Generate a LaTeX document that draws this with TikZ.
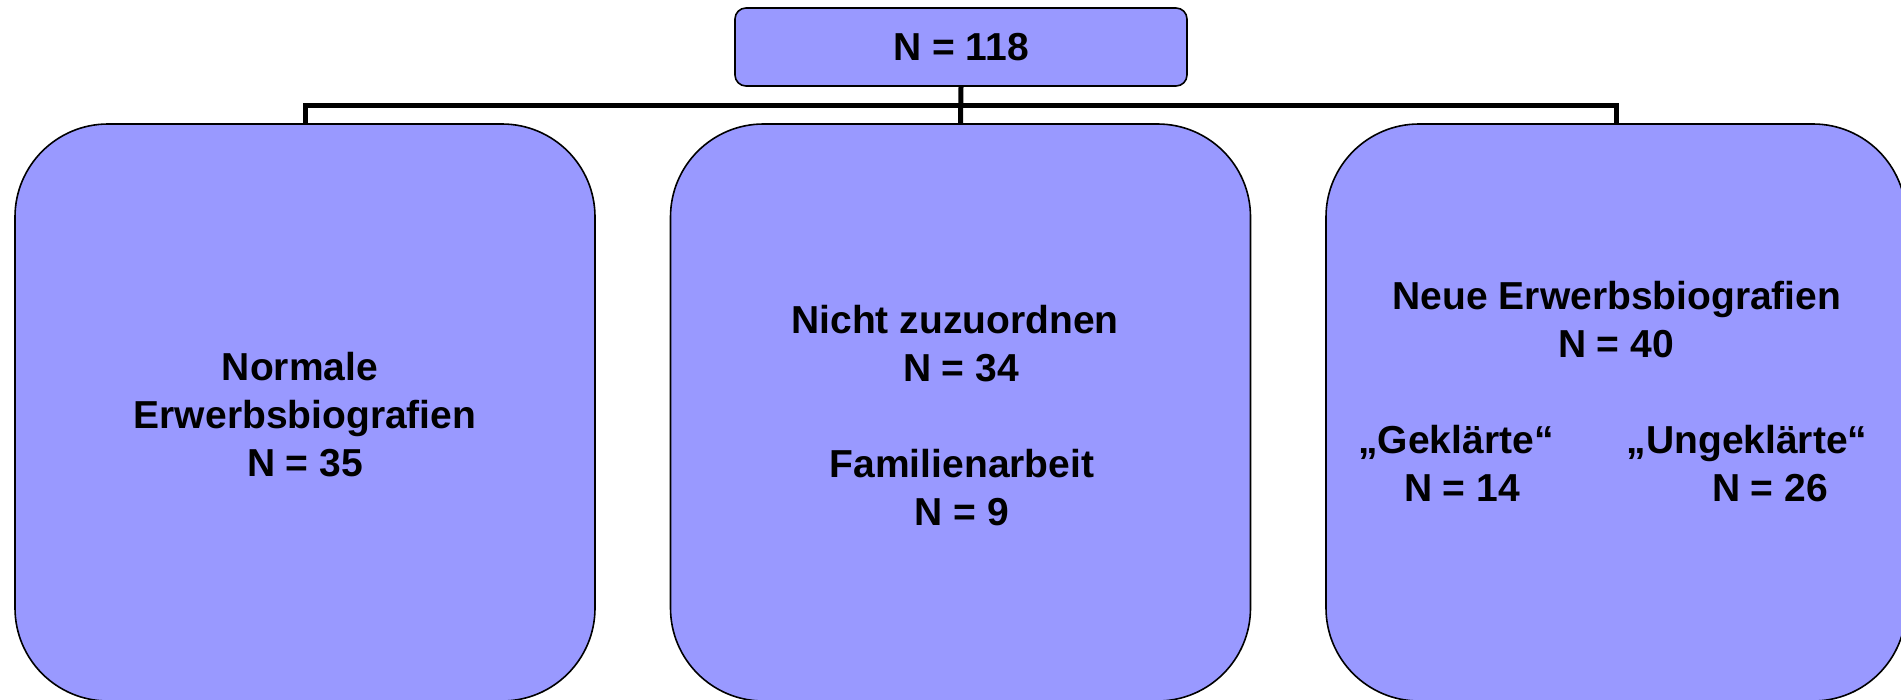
\documentclass[tikz,border=0pt]{standalone}
\usepackage{fontspec}
\setmainfont{Liberation Sans}
\definecolor{boxfill}{RGB}{153,153,255}
\tikzset{
  lbl/.style={font=\fontsize{39}{48}\selectfont\bfseries, anchor=base, inner sep=0pt},
  panel/.style={draw=black, line width=1.6pt, fill=boxfill, rounded corners=93pt,
    minimum width=580pt, minimum height=577pt, inner sep=0pt},
  headbox/.style={draw=black, line width=1.6pt, fill=boxfill, rounded corners=11pt,
    minimum width=452pt, minimum height=78pt, inner sep=0pt,
    font=\fontsize{39}{48}\selectfont\bfseries},
  conn/.style={line width=5pt, draw=black}
}
\begin{document}
\begin{tikzpicture}[x=1pt,y=-1pt]
\useasboundingbox (0,0) rectangle (1901,699);
\clip (0,0) rectangle (1901,699);

% total sample and the three groups
\node[headbox] (top) at (961,47) {N = 118};
\node[panel] (b1) at (305,412.5) {};
\node[panel] (b2) at (960.5,412.5) {};
\node[panel] (b3) at (1616,412.5) {};

% tree connectors
\coordinate (bar) at (0,105);
\draw[conn] (top.south) -- (b2.north);
\draw[conn] (b1.north) -- (b1.north |- bar) -- (b3.north |- bar) -- (b3.north);

% left group
\node[lbl] (l1) at (300,380) {Normale};
\node[lbl] (l2) at (305,428) {Erwerbsbiografien};
\node[lbl] (l3) at (305,476) {N = 35};

% middle group
\node[lbl] (m1) at (955,333) {Nicht zuzuordnen};
\node[lbl] (m2) at (961,381) {N = 34};
\node[lbl] (m3) at (962,477) {Familienarbeit};
\node[lbl] (m4) at (962,525) {N = 9};

% right group
\node[lbl] (r1) at (1617,309) {Neue Erwerbsbiografien};
\node[lbl] (r2) at (1616,357) {N = 40};
\node[lbl] (r3) at (1456,453) {„Geklärte“};
\node[lbl] (r4) at (1747,453) {„Ungeklärte“};
\node[lbl] (r5) at (1462,501) {N = 14};
\node[lbl] (r6) at (1770,501) {N = 26};
\end{tikzpicture}
\end{document}
